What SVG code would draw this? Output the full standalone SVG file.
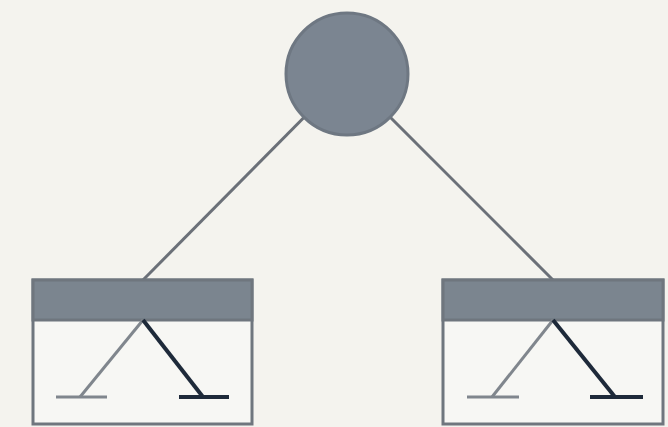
<svg xmlns="http://www.w3.org/2000/svg" width="668" height="427" viewBox="0 0 668 427">
  <style>
    .edge { stroke: #6b7078; stroke-width: 3; fill: none; }
    .box { fill: #f7f7f4; stroke: #6f767e; stroke-width: 3; }
    .head { fill: #7b858f; stroke: #6f767e; stroke-width: 3; }
    .light { stroke: #80868d; stroke-width: 3; fill: none; }
    .dark { stroke: #1e2a3a; stroke-width: 4; fill: none; }
  </style>
  <rect width="668" height="427" fill="#f4f3ee"/>
  <g id="connectors">
    <line class="edge" x1="347" y1="74" x2="143" y2="280"/>
    <line class="edge" x1="347" y1="74" x2="553" y2="280"/>
  </g>
  <g id="root">
    <circle cx="347" cy="74" r="61" fill="#7b8591" stroke="#6e7782" stroke-width="3"/>
  </g>
  <g id="left">
    <rect class="box" x="33" y="280" width="219" height="144"/>
    <rect class="head" x="33" y="280" width="219" height="40"/>
    <line class="light" x1="143" y1="320" x2="80" y2="397"/>
    <line class="light" x1="56" y1="397" x2="107" y2="397"/>
    <line class="dark" x1="143" y1="320" x2="203" y2="397"/>
    <line class="dark" x1="179" y1="397" x2="229" y2="397"/>
  </g>
  <g id="right">
    <rect class="box" x="443" y="280" width="220" height="144"/>
    <rect class="head" x="443" y="280" width="220" height="40"/>
    <line class="light" x1="553" y1="320" x2="492" y2="397"/>
    <line class="light" x1="467" y1="397" x2="519" y2="397"/>
    <line class="dark" x1="553" y1="320" x2="615" y2="397"/>
    <line class="dark" x1="590" y1="397" x2="643" y2="397"/>
  </g>
</svg>
